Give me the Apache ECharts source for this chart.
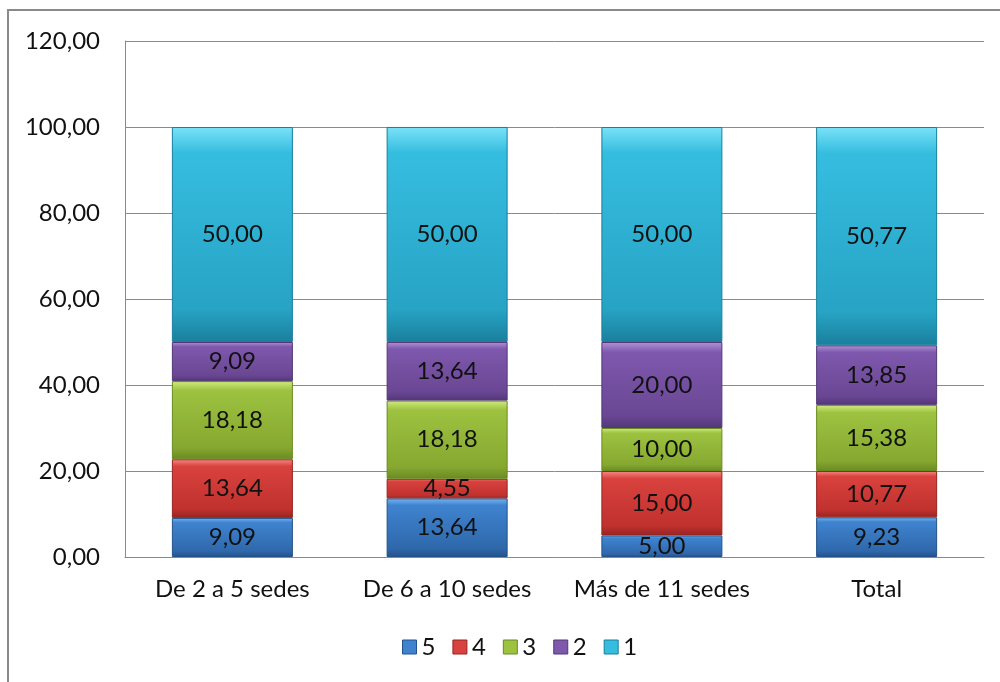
<!DOCTYPE html>
<html><head><meta charset="utf-8">
<script src="https://cdn.jsdelivr.net/npm/echarts@6/dist/echarts.min.js"></script>
<style>html,body{margin:0;padding:0;background:#fff}#c{width:1000px;height:682px}</style>
</head><body><div id="c"></div>
<script>
const categories = ['De 2 a 5 sedes','De 6 a 10 sedes','Más de 11 sedes','Total'];
const seriesNames = ['5','4','3','2','1'];
const s5 = [9.09, 13.64, 5.00, 9.23];
const s4 = [13.64, 4.55, 15.00, 10.77];
const s3 = [18.18, 18.18, 10.00, 15.38];
const s2 = [9.09, 13.64, 20.00, 13.85];
const s1 = [50.00, 50.00, 50.00, 50.77];
const yTicks = {min: 0, max: 120, interval: 20};

const palettes = [
  ['#74b6f2','#3f83cf','#2f68ab','#23528a'],
  ['#f58a86','#d9423e','#c0312e','#962522'],
  ['#d0ec80','#9dc240','#86a830','#6a8a22'],
  ['#b093d6','#7e58ad','#6a4794','#533777'],
  ['#7ae2f8','#35bde0','#27a3c4','#1a7f9c']
];
const data = [s5, s4, s3, s2, s1];
const fmt = v => v.toFixed(2).replace('.', ',');
const font = 'Lato, "Open Sans", sans-serif';

const series = data.map((d, i) => ({
  name: seriesNames[i],
  type: 'bar',
  stack: 'total',
  data: d,
  barWidth: 121,
  itemStyle: {
    color: {type:'linear', x:0, y:0, x2:0, y2:1, colorStops:[
      {offset:0, color:palettes[i][0]},
      {offset:0.12, color:palettes[i][1]},
      {offset:0.85, color:palettes[i][2]},
      {offset:1, color:palettes[i][3]}
    ]},
    borderColor: palettes[i][3],
    borderWidth: 1
  },
  label: {show:true, position:'inside', color:'#111', fontSize:24, fontFamily:font,
    formatter: p => fmt(p.value)}
}));

const chart = echarts.init(document.getElementById('c'));
chart.setOption({
  animation: false,
  graphic: [{type:'rect', shape:{x:8, y:10, width:1010, height:700},
    style:{fill:'none', stroke:'#8a8a8a', lineWidth:2}, silent:true}],
  grid: {left:125, right:16, top:41, bottom:125, containLabel:false},
  legend: {
    bottom: 18, left: 397, itemWidth: 14, itemHeight: 14, itemGap: 17,
    icon: 'rect',
    textStyle: {fontSize: 24, fontFamily: font, color: '#111'},
    data: seriesNames.map((n, i) => ({name: n, itemStyle: {color: palettes[i][1], borderColor: palettes[i][3], borderWidth:1}}))
  },
  xAxis: {
    type: 'category', data: categories,
    axisLine: {lineStyle: {color: '#8a8a8a'}},
    axisTick: {show: false},
    axisLabel: {fontSize: 24, fontFamily: font, color: '#111', margin: 20, interval: 0}
  },
  yAxis: {
    type: 'value', min: yTicks.min, max: yTicks.max, interval: yTicks.interval,
    axisLine: {show: true, lineStyle: {color: '#8a8a8a'}},
    axisTick: {show: false},
    splitLine: {lineStyle: {color: '#8a8a8a'}},
    axisLabel: {fontSize: 24, fontFamily: font, color: '#111', margin: 25, formatter: v => fmt(v)}
  },
  series: series
});
</script></body></html>
